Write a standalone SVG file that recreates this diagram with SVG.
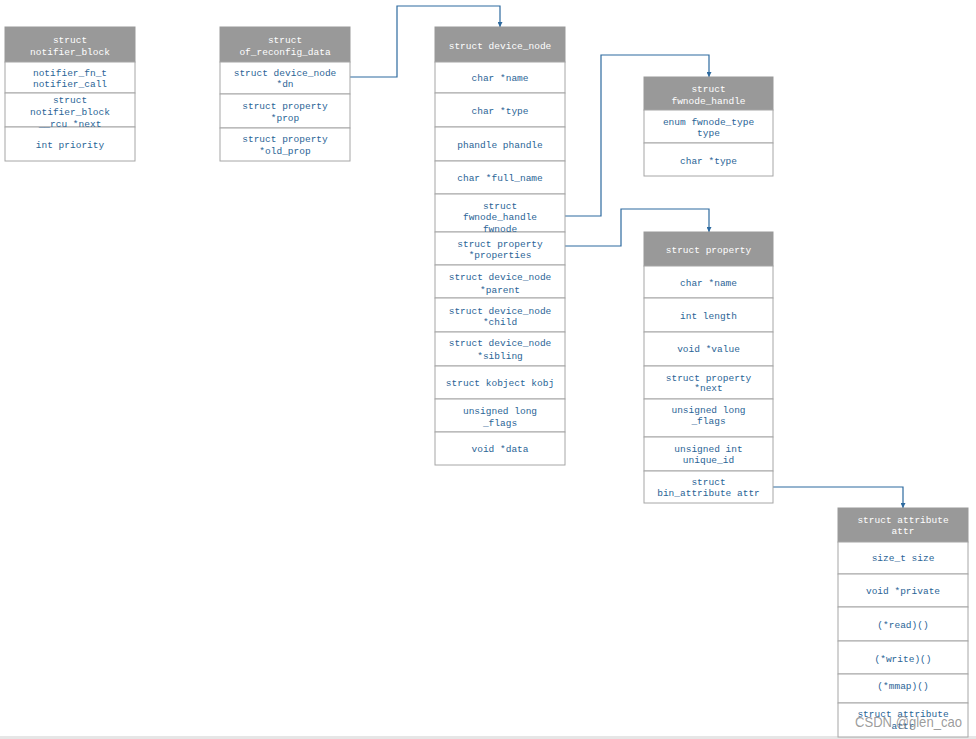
<svg xmlns="http://www.w3.org/2000/svg" width="976" height="739" viewBox="0 0 976 739">
<style>
.hd{fill:#999999;stroke:#999999;stroke-width:1}
.rw{fill:#ffffff;stroke:#a6a6a6;stroke-width:1}
text{font-family:"Liberation Mono","DejaVu Sans Mono",monospace;font-size:9.5px;text-anchor:middle}
.ht{fill:#ffffff}
.bt{fill:#2a6496}
.cn{fill:none;stroke:#2d6a9f;stroke-width:1.2}
.wm{font-family:"Liberation Sans",Arial,sans-serif;font-size:15px;fill:#8a8a8a;fill-opacity:0.85;text-anchor:start}
</style>
<defs>
<marker id="ah" viewBox="0 0 10 10" refX="10" refY="5" markerWidth="5" markerHeight="5" orient="auto" markerUnits="userSpaceOnUse">
<path d="M0,0 L10,5 L0,10 z" fill="#2d6a9f"/>
</marker>
</defs>
<rect x="0" y="0" width="976" height="739" fill="#ffffff"/>
<rect x="0" y="736" width="976" height="3" fill="#e6e6e6"/>

<g id="connectors">
<polyline class="cn" points="350,77 397,77 397,6 500,6 500,27" marker-end="url(#ah)"/>
<polyline class="cn" points="565,216 601,216 601,55 709,55 709,77" marker-end="url(#ah)"/>
<polyline class="cn" points="565,246 621,246 621,209 709,209 709,232" marker-end="url(#ah)"/>
<polyline class="cn" points="773,487 903,487 903,508" marker-end="url(#ah)"/>
</g>

<g id="notifier_block">
<rect class="hd" x="5" y="27" width="130" height="35"/>
<rect class="rw" x="5" y="62" width="130" height="31"/>
<rect class="rw" x="5" y="93" width="130" height="34"/>
<rect class="rw" x="5" y="127" width="130" height="34"/>
<text class="ht" x="70" y="42.5">struct</text>
<text class="ht" x="70" y="54.5">notifier_block</text>
<text class="bt" x="70" y="76">notifier_fn_t</text>
<text class="bt" x="70" y="87">notifier_call</text>
<text class="bt" x="70" y="102.5">struct</text>
<text class="bt" x="70" y="114.5">notifier_block</text>
<text class="bt" x="70" y="126.5">__rcu *next</text>
<text class="bt" x="70" y="148">int priority</text>
</g>

<g id="of_reconfig_data">
<rect class="hd" x="220" y="27" width="130" height="35"/>
<rect class="rw" x="220" y="62" width="130" height="32"/>
<rect class="rw" x="220" y="94" width="130" height="34"/>
<rect class="rw" x="220" y="128" width="130" height="33"/>
<text class="ht" x="285" y="42.5">struct</text>
<text class="ht" x="285" y="54.5">of_reconfig_data</text>
<text class="bt" x="285" y="76">struct device_node</text>
<text class="bt" x="285" y="87">*dn</text>
<text class="bt" x="285" y="108.5">struct property</text>
<text class="bt" x="285" y="120.5">*prop</text>
<text class="bt" x="285" y="142">struct property</text>
<text class="bt" x="285" y="153.5">*old_prop</text>
</g>

<g id="device_node">
<rect class="hd" x="435" y="27" width="130" height="35"/>
<rect class="rw" x="435" y="62" width="130" height="31"/>
<rect class="rw" x="435" y="93" width="130" height="34"/>
<rect class="rw" x="435" y="127" width="130" height="34"/>
<rect class="rw" x="435" y="161" width="130" height="33"/>
<rect class="rw" x="435" y="194" width="130" height="38"/>
<rect class="rw" x="435" y="232" width="130" height="33"/>
<rect class="rw" x="435" y="265" width="130" height="33"/>
<rect class="rw" x="435" y="298" width="130" height="34"/>
<rect class="rw" x="435" y="332" width="130" height="34"/>
<rect class="rw" x="435" y="366" width="130" height="33"/>
<rect class="rw" x="435" y="399" width="130" height="33"/>
<rect class="rw" x="435" y="432" width="130" height="33"/>
<text class="ht" x="500" y="48.5">struct device_node</text>
<text class="bt" x="500" y="81">char *name</text>
<text class="bt" x="500" y="114">char *type</text>
<text class="bt" x="500" y="147.5">phandle phandle</text>
<text class="bt" x="500" y="181">char *full_name</text>
<text class="bt" x="500" y="208.5">struct</text>
<text class="bt" x="500" y="220">fwnode_handle</text>
<text class="bt" x="500" y="232">fwnode</text>
<text class="bt" x="500" y="247">struct property</text>
<text class="bt" x="500" y="258">*properties</text>
<text class="bt" x="500" y="280">struct device_node</text>
<text class="bt" x="500" y="292.5">*parent</text>
<text class="bt" x="500" y="313.5">struct device_node</text>
<text class="bt" x="500" y="325">*child</text>
<text class="bt" x="500" y="346">struct device_node</text>
<text class="bt" x="500" y="358.5">*sibling</text>
<text class="bt" x="500" y="386">struct kobject kobj</text>
<text class="bt" x="500" y="413.5">unsigned long</text>
<text class="bt" x="500" y="425.5">_flags</text>
<text class="bt" x="500" y="452">void *data</text>
</g>

<g id="fwnode_handle">
<rect class="hd" x="644" y="77" width="129" height="33"/>
<rect class="rw" x="644" y="110" width="129" height="33"/>
<rect class="rw" x="644" y="143" width="129" height="33"/>
<text class="ht" x="708.5" y="92">struct</text>
<text class="ht" x="708.5" y="103.5">fwnode_handle</text>
<text class="bt" x="708.5" y="124.5">enum fwnode_type</text>
<text class="bt" x="708.5" y="136">type</text>
<text class="bt" x="708.5" y="163.5">char *type</text>
</g>

<g id="property">
<rect class="hd" x="644" y="232" width="129" height="34"/>
<rect class="rw" x="644" y="266" width="129" height="32"/>
<rect class="rw" x="644" y="298" width="129" height="34"/>
<rect class="rw" x="644" y="332" width="129" height="34"/>
<rect class="rw" x="644" y="366" width="129" height="33"/>
<rect class="rw" x="644" y="399" width="129" height="38"/>
<rect class="rw" x="644" y="437" width="129" height="34"/>
<rect class="rw" x="644" y="471" width="129" height="32"/>
<text class="ht" x="708.5" y="252.5">struct property</text>
<text class="bt" x="708.5" y="286">char *name</text>
<text class="bt" x="708.5" y="318.5">int length</text>
<text class="bt" x="708.5" y="352">void *value</text>
<text class="bt" x="708.5" y="381">struct property</text>
<text class="bt" x="708.5" y="391">*next</text>
<text class="bt" x="708.5" y="413">unsigned long</text>
<text class="bt" x="708.5" y="424">_flags</text>
<text class="bt" x="708.5" y="451.5">unsigned int</text>
<text class="bt" x="708.5" y="463">unique_id</text>
<text class="bt" x="708.5" y="484.5">struct</text>
<text class="bt" x="708.5" y="496">bin_attribute attr</text>
</g>

<g id="attribute">
<rect class="hd" x="838" y="508" width="130" height="34"/>
<rect class="rw" x="838" y="542" width="130" height="32"/>
<rect class="rw" x="838" y="574" width="130" height="33"/>
<rect class="rw" x="838" y="607" width="130" height="34"/>
<rect class="rw" x="838" y="641" width="130" height="33"/>
<rect class="rw" x="838" y="674" width="130" height="29"/>
<rect class="rw" x="838" y="703" width="130" height="34"/>
<text class="ht" x="903" y="522.5">struct attribute</text>
<text class="ht" x="903" y="534">attr</text>
<text class="bt" x="903" y="561">size_t size</text>
<text class="bt" x="903" y="594">void *private</text>
<text class="bt" x="903" y="628">(*read)()</text>
<text class="bt" x="903" y="662">(*write)()</text>
<text class="bt" x="903" y="688.5">(*mmap)()</text>
<text class="bt" x="903" y="716.5">struct attribute</text>
<text class="bt" x="903" y="728.5">attr</text>
</g>

<text class="wm" x="855" y="727" textLength="107" lengthAdjust="spacingAndGlyphs">CSDN @glen_cao</text>
</svg>
